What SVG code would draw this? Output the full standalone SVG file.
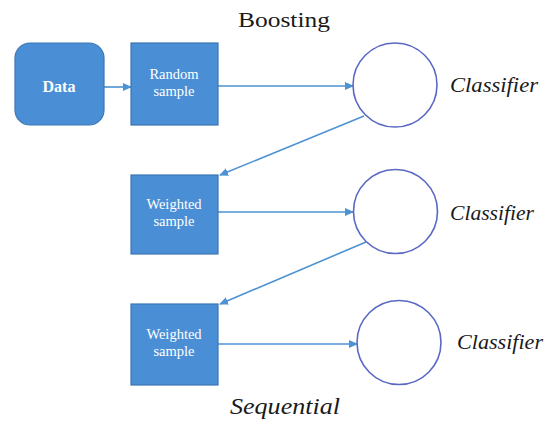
<svg xmlns="http://www.w3.org/2000/svg" width="550" height="421" viewBox="0 0 550 421">
<defs>
<style>
.box{fill:#4a8fd5;stroke:#3b77b5;stroke-width:1.2}
.circ{fill:#fff;stroke:#5a68c4;stroke-width:1.6}
.edge{stroke:#4d92d2;stroke-width:1.6;fill:none}
.lbl{fill:#fff;text-anchor:middle;font-size:14.5px}
.cls{font-style:italic;font-size:20px;fill:#1a1a1a}
.title{fill:#1a1a1a}
</style>
<marker id="ah" markerWidth="10" markerHeight="10" refX="8" refY="4" orient="auto" markerUnits="userSpaceOnUse">
<path d="M0,0 L9,4 L0,8 Z" fill="#4d92d2"/>
</marker>
</defs>
<rect width="550" height="421" fill="#fff"/>
<g font-family="Liberation Serif, Times New Roman, Times, serif">
<text class="title" x="238" y="27" font-size="22" textLength="92" lengthAdjust="spacingAndGlyphs">Boosting</text>
<text class="title" x="230" y="414" font-size="24" font-style="italic" textLength="110" lengthAdjust="spacingAndGlyphs">Sequential</text>
<g id="connectors">
<line class="edge" x1="104" y1="87" x2="131" y2="87" marker-end="url(#ah)"/>
<line class="edge" x1="218" y1="86" x2="353" y2="86" marker-end="url(#ah)"/>
<line class="edge" x1="364" y1="116" x2="220" y2="175" marker-end="url(#ah)"/>
<line class="edge" x1="218" y1="212" x2="353" y2="212" marker-end="url(#ah)"/>
<line class="edge" x1="366" y1="242" x2="220" y2="304" marker-end="url(#ah)"/>
<line class="edge" x1="218" y1="344" x2="357" y2="344" marker-end="url(#ah)"/>
</g>
<g id="data">
<rect class="box" x="15" y="43" width="89" height="82" rx="15"/>
<text class="lbl" x="59" y="92" style="font-size:16px" font-weight="bold">Data</text>
</g>
<g id="random-sample">
<rect class="box" x="131" y="43" width="87" height="82"/>
<text class="lbl" x="174" y="79">Random</text>
<text class="lbl" x="174" y="96">sample</text>
</g>
<g id="weighted-sample-1">
<rect class="box" x="131" y="175" width="87" height="79"/>
<text class="lbl" x="174" y="209">Weighted</text>
<text class="lbl" x="174" y="226">sample</text>
</g>
<g id="weighted-sample-2">
<rect class="box" x="131" y="304" width="87" height="81"/>
<text class="lbl" x="174" y="339">Weighted</text>
<text class="lbl" x="174" y="356">sample</text>
</g>
<g id="classifier-1">
<circle class="circ" cx="395" cy="85" r="42"/>
<text class="cls" x="450" y="92" textLength="88" lengthAdjust="spacingAndGlyphs">Classifier</text>
</g>
<g id="classifier-2">
<circle class="circ" cx="395.5" cy="211.5" r="42"/>
<text class="cls" x="450" y="220" textLength="84" lengthAdjust="spacingAndGlyphs">Classifier</text>
</g>
<g id="classifier-3">
<circle class="circ" cx="399" cy="342.5" r="42"/>
<text class="cls" x="457" y="349" textLength="86" lengthAdjust="spacingAndGlyphs">Classifier</text>
</g>
</g>
</svg>
